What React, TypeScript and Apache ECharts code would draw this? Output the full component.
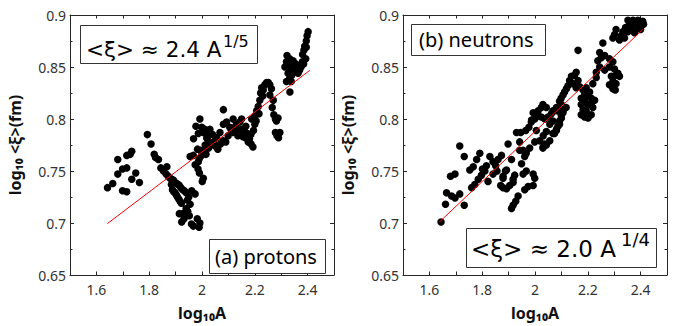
import React, { useEffect, useRef } from "react";
import * as echarts from "echarts";

// x = log10 A, y = log10 <xi> (fm)
const protonPoints: number[][] = [
  [1.642,0.734],[1.662,0.738],[1.681,0.761],[1.681,0.747],[1.699,0.752],[1.715,0.753],[1.715,0.765],[1.734,0.769],
  [1.699,0.731],[1.715,0.730],[1.734,0.742],[1.749,0.748],[1.763,0.739],[1.728,0.766],
  [1.793,0.785],[1.807,0.776],[1.819,0.766],[1.824,0.763],[1.835,0.761],[1.844,0.753],[1.867,0.754],[1.854,0.750],
  [1.864,0.747],[1.872,0.745],[1.879,0.743],[1.886,0.742],[1.892,0.741],[1.898,0.739],[1.904,0.738],[1.910,0.737],
  [1.914,0.736],[1.920,0.734],[1.927,0.732],[1.933,0.731],[1.940,0.729],[1.898,0.729],[1.903,0.727],[1.907,0.725],
  [1.912,0.723],[1.917,0.721],[1.922,0.719],[1.884,0.737],[1.888,0.732],[1.893,0.730],[1.955,0.718],[1.950,0.725],
  [1.974,0.728],[1.961,0.731],[1.945,0.722],[1.940,0.714],[1.946,0.711],
  [1.914,0.709],[1.932,0.704],[1.952,0.707],[1.923,0.701],[1.967,0.697],[1.982,0.704],[1.992,0.700],[1.989,0.696],
  [1.960,0.699],[1.927,0.709],
  [1.955,0.764],[1.967,0.765],[1.974,0.756],[1.986,0.759],[1.990,0.762],[1.983,0.771],[2.005,0.743],[2.001,0.740],
  [1.992,0.800],[1.977,0.793],[1.986,0.786],[2.011,0.790],[2.018,0.782],[1.999,0.792],[2.005,0.787],[1.968,0.781],
  [2.020,0.781],[2.030,0.775],[2.043,0.778],[2.055,0.782],[2.068,0.787],[2.080,0.779],[2.099,0.784],[2.118,0.787],
  [2.136,0.784],[2.155,0.783],[2.081,0.809],[2.093,0.797],[2.081,0.795],[2.105,0.792],[2.118,0.800],[2.130,0.795],
  [2.143,0.797],[2.149,0.790],[2.160,0.789],[2.166,0.793],[2.172,0.786],[2.180,0.781],[2.186,0.776],[2.193,0.773],
  [2.010,0.770],[2.015,0.766],[2.025,0.772],[2.050,0.774],[2.060,0.771],[2.070,0.776],[2.090,0.778],[2.110,0.790],
  [2.125,0.792],[2.140,0.788],[2.150,0.800],[2.165,0.782],[2.175,0.778],[2.185,0.785],[2.195,0.789],[2.200,0.795],
  [2.040,0.785],[2.030,0.790],[2.020,0.786],[2.012,0.775],[1.995,0.770],[1.998,0.765],[1.985,0.752],[1.990,0.748],
  [2.188,0.800],[2.200,0.803],[2.207,0.808],[2.213,0.812],[2.219,0.818],[2.222,0.825],[2.230,0.822],[2.226,0.830],
  [2.238,0.833],[2.251,0.835],[2.257,0.833],[2.263,0.829],[2.257,0.823],[2.270,0.818],[2.266,0.811],[2.272,0.804],
  [2.278,0.800],[2.282,0.798],[2.288,0.801],[2.278,0.787],[2.284,0.784],[2.290,0.782],[2.295,0.787],[2.245,0.835],
  [2.232,0.828],[2.216,0.805],[2.205,0.798],
  [2.322,0.861],[2.332,0.858],[2.345,0.856],[2.320,0.855],[2.332,0.853],[2.350,0.851],[2.314,0.850],[2.332,0.848],
  [2.357,0.848],[2.326,0.844],[2.345,0.845],[2.364,0.844],[2.332,0.839],[2.320,0.836],[2.338,0.836],[2.370,0.847],
  [2.333,0.826],[2.340,0.842],[2.355,0.853],
  [2.402,0.884],[2.398,0.880],[2.395,0.875],[2.389,0.870],[2.395,0.869],[2.386,0.866],[2.381,0.862],[2.393,0.858],
  [2.380,0.855],[2.375,0.850],[2.385,0.853],
];

const neutronPoints: number[][] = [
  [1.644,0.701],[1.661,0.718],[1.665,0.729],[1.684,0.726],[1.697,0.724],[1.715,0.728],[1.732,0.717],[1.680,0.745],
  [1.697,0.747],[1.715,0.774],[1.732,0.764],[1.753,0.751],[1.766,0.754],[1.779,0.761],[1.791,0.767],[1.760,0.734],
  [1.772,0.737],[1.785,0.742],[1.797,0.746],[1.810,0.750],[1.829,0.764],[1.841,0.759],[1.851,0.755],[1.860,0.761],
  [1.873,0.765],[1.816,0.755],[1.801,0.752],[1.822,0.740],[1.841,0.747],[1.856,0.750],[1.879,0.745],[1.888,0.750],
  [1.898,0.776],[1.911,0.761],[1.917,0.742],[1.923,0.746],[1.892,0.751],[1.870,0.736],[1.879,0.734],[1.892,0.733],
  [1.904,0.736],[1.917,0.739],[1.936,0.726],[1.927,0.721],[1.917,0.717],[1.911,0.714],[1.961,0.732],[1.974,0.735],
  [1.993,0.736],[1.955,0.747],[1.967,0.750],[1.961,0.764],[1.967,0.767],[1.980,0.772],[1.993,0.747],[1.999,0.743],
  [1.955,0.770],[1.942,0.778],[1.930,0.787],[1.946,0.787],[1.965,0.789],[1.977,0.792],[1.986,0.797],[1.999,0.800],
  [1.999,0.778],[2.005,0.789],[1.949,0.757],[1.942,0.770],[1.879,0.743],
  [2.018,0.779],[2.031,0.784],[2.043,0.788],[2.056,0.795],[2.068,0.798],[2.031,0.773],[2.037,0.776],[2.081,0.808],
  [2.093,0.811],[2.100,0.814],[2.030,0.772],[2.043,0.775],[2.056,0.779],[2.068,0.786],[2.081,0.790],[2.093,0.795],
  [2.100,0.801],[2.106,0.806],[2.118,0.811],
  [2.081,0.811],[2.068,0.808],[2.062,0.805],[2.049,0.802],[2.037,0.800],[2.024,0.802],[2.012,0.803],[2.000,0.801],
  [1.987,0.799],[2.030,0.814],[2.024,0.811],[2.012,0.808],[2.043,0.811],[1.993,0.806],[2.093,0.798],[2.087,0.793],
  [2.081,0.789],[2.074,0.786],[2.099,0.804],[2.106,0.808],
  [2.106,0.823],[2.099,0.820],[2.093,0.817],[2.112,0.826],[2.119,0.829],[2.125,0.832],
  [2.156,0.845],[2.150,0.842],[2.138,0.841],[2.131,0.837],[2.163,0.837],[2.144,0.834],[2.169,0.831],[2.156,0.830],
  [2.182,0.828],[2.194,0.830],[2.207,0.826],[2.200,0.822],[2.213,0.820],[2.188,0.823],[2.175,0.820],[2.188,0.817],
  [2.200,0.814],[2.175,0.814],[2.182,0.809],[2.194,0.808],[2.175,0.804],[2.188,0.802],[2.201,0.801],[2.213,0.804],
  [2.219,0.811],[2.213,0.815],[2.226,0.818],
  [2.163,0.866],[2.257,0.873],[2.245,0.864],[2.251,0.859],[2.264,0.861],[2.238,0.856],[2.282,0.858],[2.295,0.855],
  [2.245,0.850],[2.264,0.847],[2.282,0.850],[2.301,0.848],[2.232,0.845],[2.314,0.844],[2.320,0.841],[2.289,0.841],
  [2.295,0.836],[2.307,0.834],[2.282,0.833],[2.295,0.829],[2.304,0.828],[2.232,0.840],[2.219,0.834],[2.307,0.842],
  [2.295,0.831],
  [2.352,0.895],[2.371,0.895],[2.390,0.895],[2.408,0.894],[2.358,0.891],[2.377,0.891],[2.396,0.891],[2.411,0.891],
  [2.343,0.888],[2.364,0.888],[2.383,0.888],[2.333,0.884],[2.352,0.884],[2.327,0.880],[2.339,0.878],[2.320,0.876],
  [2.377,0.883],[2.295,0.878],[2.301,0.881],[2.307,0.886],[2.400,0.886],[2.365,0.893],
];

const protonFit: number[][] = [[1.642, 0.6995], [2.408, 0.8467]];
const neutronFit: number[][] = [[1.638, 0.701], [2.408, 0.886]];

const xTickLabels = ["1.6", "1.8", "2", "2.2", "2.4"];
const yTickLabels = ["0.65", "0.7", "0.75", "0.8", "0.85", "0.9"];

const FONT = "'Noto Sans', sans-serif";
const MATH_FONT = "'DejaVu Sans', sans-serif";
const AX = "#262626";

function fmtX(v: number) {
  const s = String(parseFloat(v.toFixed(2)));
  return xTickLabels.includes(s) ? s : "";
}
function fmtY(v: number) {
  const s = String(parseFloat(v.toFixed(3)));
  return yTickLabels.includes(s) ? s : "";
}

function xAxisDef(gridIndex: number, top: boolean) {
  return {
    type: "value",
    gridIndex,
    position: top ? "top" : "bottom",
    min: 1.5,
    max: 2.5,
    interval: 0.1,
    axisLine: { show: true, onZero: false, lineStyle: { color: AX, width: 1 } },
    axisTick: { show: true, inside: true, length: 3.5, lineStyle: { color: AX } },
    splitLine: { show: false },
    axisLabel: top
      ? { show: false }
      : { show: true, formatter: fmtX, fontFamily: FONT, fontSize: 14, color: "#333", margin: 7 },
    name: top ? "" : "log₁₀A",
    nameLocation: "middle",
    nameGap: 30,
    nameTextStyle: { fontFamily: FONT, fontSize: 16, fontWeight: "bold", color: "#111" },
  };
}

function yAxisDef(gridIndex: number, right: boolean) {
  return {
    type: "value",
    gridIndex,
    position: right ? "right" : "left",
    min: 0.65,
    max: 0.9,
    interval: 0.05,
    axisLine: { show: true, onZero: false, lineStyle: { color: AX, width: 1 } },
    axisTick: { show: true, inside: true, length: 4, lineStyle: { color: AX } },
    minorTick: { show: true, splitNumber: 2, length: 2.5, lineStyle: { color: AX } },
    splitLine: { show: false },
    axisLabel: right
      ? { show: false }
      : { show: true, formatter: fmtY, fontFamily: FONT, fontSize: 14, color: "#333", margin: 4 },
    name: right ? "" : "log₁₀ <ξ>(fm)",
    nameLocation: "middle",
    nameGap: 47,
    nameRotate: 90,
    nameTextStyle: { fontFamily: FONT, fontSize: 16, fontWeight: "bold", color: "#111" },
  };
}

function box(x: number, y: number, w: number, h: number) {
  return {
    type: "rect",
    z: 10,
    shape: { x: x + 0.5, y: y + 0.5, width: w, height: h },
    style: { fill: "#fff", stroke: "#333", lineWidth: 1 },
  };
}
function label(x: number, y: number, text: string, size: number, family: string) {
  return {
    type: "text",
    z: 11,
    x,
    y,
    style: { text, fontSize: size, fontFamily: family, fill: "#000", align: "left", verticalAlign: "middle" },
  };
}

export default function App() {
  const ref = useRef<HTMLDivElement>(null);
  useEffect(() => {
    if (!ref.current) return;
    const chart = echarts.init(ref.current, null, { renderer: "svg" });
    const dot = { color: "#000", opacity: 1 };
    chart.setOption({
      animation: false,
      backgroundColor: "#fff",
      grid: [
        { left: 70, top: 15, width: 264, height: 266 },
        { left: 403, top: 15, width: 264, height: 266 },
      ],
      xAxis: [xAxisDef(0, false), xAxisDef(0, true), xAxisDef(1, false), xAxisDef(1, true)],
      yAxis: [yAxisDef(0, false), yAxisDef(0, true), yAxisDef(1, false), yAxisDef(1, true)],
      series: [
        {
          type: "scatter",
          xAxisIndex: 0,
          yAxisIndex: 0,
          data: protonPoints,
          symbol: "circle",
          symbolSize: 7.5,
          itemStyle: dot,
        },
        {
          type: "line",
          xAxisIndex: 0,
          yAxisIndex: 0,
          data: protonFit,
          showSymbol: false,
          lineStyle: { color: "#ff0000", width: 1 },
          z: 5,
        },
        {
          type: "scatter",
          xAxisIndex: 2,
          yAxisIndex: 2,
          data: neutronPoints,
          symbol: "circle",
          symbolSize: 7.5,
          itemStyle: dot,
        },
        {
          type: "line",
          xAxisIndex: 2,
          yAxisIndex: 2,
          data: neutronFit,
          showSymbol: false,
          lineStyle: { color: "#ff0000", width: 1 },
          z: 5,
        },
      ],
      graphic: [
        box(80, 25, 177, 38),
        label(86, 49, "<ξ> ≈ 2.4 A", 21.5, MATH_FONT),
        label(223, 41, "1/5", 16, MATH_FONT),
        box(209, 239, 116, 34),
        label(215, 256, "(a) protons", 20, FONT),
        box(411, 24, 134, 31),
        label(419, 39.5, "(b) neutrons", 20, FONT),
        box(466, 228, 190, 39),
        label(471, 249, "<ξ> ≈ 2.0 A", 23, MATH_FONT),
        label(621, 239, "1/4", 18, MATH_FONT),
      ],
    });
    return () => chart.dispose();
  }, []);
  return (
    <div
      ref={ref}
      style={{ position: "fixed", left: 0, top: 0, width: 685, height: 326, background: "#fff" }}
    />
  );
}
